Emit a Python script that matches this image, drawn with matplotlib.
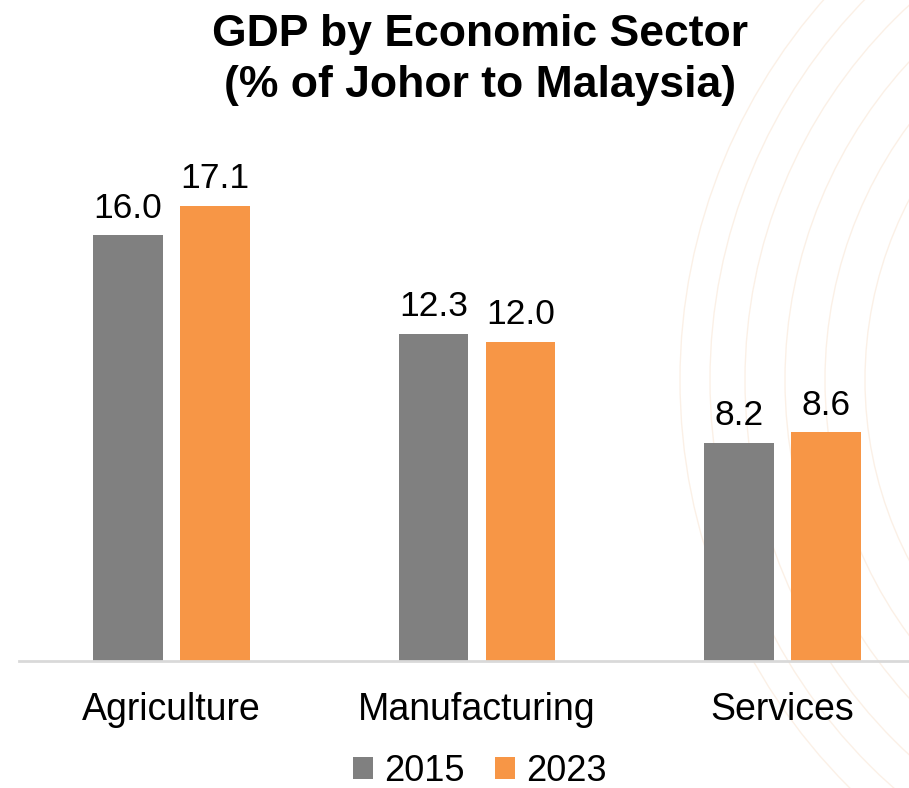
import matplotlib
matplotlib.use("Agg")
import matplotlib.pyplot as plt
from matplotlib.patches import Circle
import numpy as np

plt.rcParams['font.family'] = ['Liberation Sans', 'DejaVu Sans']

categories = ["Agriculture", "Manufacturing", "Services"]
years = ["2015", "2023"]
values_2015 = [16.0, 12.3, 8.2]
values_2023 = [17.1, 12.0, 8.6]
colors = ["#808080", "#F79646"]

fig = plt.figure(figsize=(9.09, 7.88), dpi=100)

# faint decorative rings in the background
bg = fig.add_axes([0, 0, 1, 1], zorder=0)
bg.set_xlim(0, 909)
bg.set_ylim(788, 0)
bg.axis("off")
for r in [390, 430, 470, 510, 545, 575]:
    bg.add_patch(Circle((1255, 380), r, fill=False, lw=1.0,
                        ec="#F3CFAE", alpha=0.3))

ax = fig.add_axes([0.0206, 1 - 661 / 788, 1 - 0.0206, (661 - 129) / 788], zorder=1)
ax.patch.set_alpha(0)

x = np.arange(len(categories))
w = 0.229
off = 0.1424
b1 = ax.bar(x - off, values_2015, w, color=colors[0], label=years[0])
b2 = ax.bar(x + off, values_2023, w, color=colors[1], label=years[1])

for bars, vals in ((b1, values_2015), (b2, values_2023)):
    for rect, v in zip(bars, vals):
        ax.text(rect.get_x() + rect.get_width() / 2, v + 0.4, f"{v:.1f}",
                ha="center", va="bottom", fontsize=25.5)

ax.set_xlim(-0.5, 2.414)
ax.set_ylim(0, 20)
ax.set_yticks([])
ax.set_xticks(x)
ax.set_xticklabels(categories, fontsize=27)
ax.tick_params(axis="x", length=0, pad=22)
for s in ["top", "right", "left"]:
    ax.spines[s].set_visible(False)
ax.spines["bottom"].set_color("#D9D9D9")
ax.spines["bottom"].set_linewidth(2)

fig.text(0.528, 0.982, "GDP by Economic Sector\n(% of Johor to Malaysia)",
         ha="center", va="top", fontsize=32, fontweight="bold", linespacing=1.3)

fig.legend(handles=[b1, b2], labels=years, loc="center", ncol=2,
           bbox_to_anchor=(0.528, 0.021), frameon=False, fontsize=26,
           handlelength=0.55, handleheight=0.55, handletextpad=0.3,
           columnspacing=0.85, borderaxespad=0)

fig.savefig("out.png", dpi=100)
